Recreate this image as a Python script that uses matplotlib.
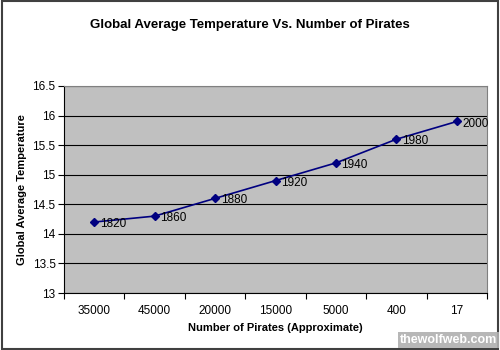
import matplotlib.pyplot as plt
from matplotlib.patches import Rectangle

pirates = ['35000', '45000', '20000', '15000', '5000', '400', '17']
years = ['1820', '1860', '1880', '1920', '1940', '1980', '2000']
temps = [14.2, 14.3, 14.6, 14.9, 15.2, 15.6, 15.9]
yticks = [13, 13.5, 14, 14.5, 15, 15.5, 16, 16.5]

plt.rcParams['font.family'] = ['Liberation Sans', 'DejaVu Sans']

fig = plt.figure(figsize=(5, 3.5), dpi=100)
ax = fig.add_axes([64 / 500, 1 - 293 / 350, 423 / 500, 207 / 350])
ax.set_facecolor('#c0c0c0')

x = list(range(len(pirates)))
ax.plot(x, temps, color='#000080', lw=1.2, marker='D', ms=4, zorder=3)
for xi, t, yr in zip(x, temps, years):
    ax.annotate(yr, (xi, t), xytext=(4, -1.5), textcoords='offset points',
                fontsize=8.5, color='black', va='center', ha='left', zorder=4)

ax.set_xlim(-0.5, len(pirates) - 0.5)
ax.set_ylim(13, 16.5)
ax.set_yticks(yticks)
ax.set_yticklabels([f'{v:g}' for v in yticks], fontsize=8.5)
ax.set_xticks(x)
ax.set_xticklabels(pirates, fontsize=8.5)
ax.tick_params(axis='x', length=0, pad=9)
ax.set_xticks([i + 0.5 for i in range(-1, len(pirates))], minor=True)
ax.tick_params(axis='x', which='minor', length=4, width=0.8, direction='out')
ax.tick_params(axis='y', length=4, width=0.8, direction='out', pad=2)

ax.grid(axis='y', color='black', lw=0.8)
ax.set_axisbelow(True)
for side in ('top', 'right'):
    ax.spines[side].set_color('#808080')
    ax.spines[side].set_linewidth(0.8)
ax.spines['left'].set_color('black')
ax.spines['bottom'].set_color('black')
ax.spines['left'].set_linewidth(0.8)
ax.spines['bottom'].set_linewidth(0.8)

ax.set_xlabel('Number of Pirates (Approximate)', fontsize=8, fontweight='bold', labelpad=4)
ax.set_ylabel('Global Average Temperature', fontsize=8, fontweight='bold', labelpad=4)
fig.text(0.5, 1 - 25 / 350, 'Global Average Temperature Vs. Number of Pirates',
         ha='center', va='center', fontsize=9.5, fontweight='bold')

# outer chart border
fig.patches.append(Rectangle((0.003, 0.004), 0.992, 0.992, transform=fig.transFigure,
                             fill=False, edgecolor='#404040', lw=1.5))

# site watermark
fig.text(0.995, 0.012, 'thewolfweb.com', ha='right', va='bottom', fontsize=9,
         fontweight='bold', color='white',
         bbox=dict(boxstyle='square,pad=0.15', fc='#b0b0b0', ec='none', alpha=0.9))

fig.savefig('out.png', dpi=100)
